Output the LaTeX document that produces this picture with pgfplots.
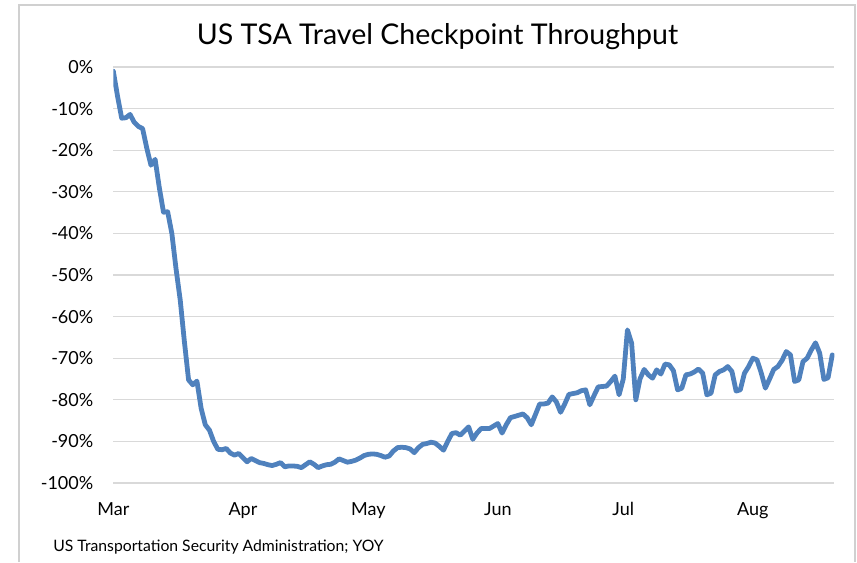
\documentclass[border=0pt]{standalone}
\usepackage{pgfplots}
\pgfplotsset{compat=1.18}
\usepackage{pgfplotstable}
\usepackage{fontspec}
\setmainfont{Lato}
\definecolor{tsablue}{RGB}{79,129,189}
\definecolor{gridgray}{RGB}{217,217,217}
\definecolor{framegray}{RGB}{208,208,208}

% days since 1 Mar, YOY change in %
\pgfplotstableread{
d v
0 -1
1 -7
2 -12.3
3 -12.2
4 -11.4
5 -13.3
6 -14.3
7 -14.8
8 -19.5
9 -23.6
10 -22.2
11 -29
12 -34.9
13 -34.8
14 -40
15 -48.5
16 -56
17 -66
18 -75.2
19 -76.4
20 -75.5
21 -82
22 -86
23 -87.3
24 -90
25 -91.9
26 -92
27 -91.7
28 -92.8
29 -93.3
30 -92.9
31 -93.9
32 -94.9
33 -94.1
34 -94.6
35 -95.1
36 -95.3
37 -95.6
38 -95.8
39 -95.5
40 -95.1
41 -96.1
42 -95.9
43 -95.9
44 -96
45 -96.3
46 -95.6
47 -94.9
48 -95.5
49 -96.3
50 -95.9
51 -95.6
52 -95.5
53 -95
54 -94.2
55 -94.6
56 -95
57 -94.8
58 -94.5
59 -94
60 -93.4
61 -93.1
62 -93
63 -93.1
64 -93.4
65 -93.8
66 -93.5
67 -92.3
68 -91.5
69 -91.4
70 -91.5
71 -91.8
72 -92.7
73 -91.5
74 -90.7
75 -90.5
76 -90.2
77 -90.4
78 -91.2
79 -92.1
80 -90
81 -88.1
82 -87.9
83 -88.5
84 -87.5
85 -86.5
86 -89.5
87 -88
88 -86.9
89 -86.9
90 -86.9
91 -86.3
92 -85.7
93 -88
94 -86
95 -84.3
96 -84
97 -83.7
98 -83.4
99 -84.3
100 -86
101 -83.5
102 -81
103 -81
104 -80.8
105 -79.3
106 -80.5
107 -83
108 -81
109 -78.7
110 -78.5
111 -78.3
112 -77.8
113 -77.6
114 -81.2
115 -79
116 -76.9
117 -76.8
118 -76.7
119 -75.6
120 -74.3
121 -78.8
122 -75
123 -63.2
124 -66.4
125 -80
126 -75
127 -72.7
128 -74
129 -74.8
130 -72.8
131 -73.8
132 -71.4
133 -71.6
134 -73
135 -77.6
136 -77.2
137 -74
138 -73.8
139 -73.3
140 -72.6
141 -73.6
142 -78.8
143 -78.4
144 -74
145 -73.2
146 -72.8
147 -72
148 -73.2
149 -77.9
150 -77.6
151 -73.6
152 -72
153 -70
154 -70.4
155 -73.5
156 -77.2
157 -75
158 -72.7
159 -72
160 -70.5
161 -68.4
162 -69.2
163 -75.6
164 -75.2
165 -70.8
166 -70
167 -68
168 -66.3
169 -68.8
170 -75.1
171 -74.7
172 -69.2
}\tsadata

\begin{document}
\begin{tikzpicture}
% 1 px of the reference = 0.75pt, origin at the top left corner
\path[use as bounding box] (0,0) rectangle (642.75pt,-421.5pt);
\draw[framegray, line width=1.5pt]
  (14.25pt,-421.5pt) -- (14.25pt,-3.75pt) -- (641.25pt,-3.75pt) -- (641.25pt,-421.5pt);
\begin{axis}[
    at={(85pt,-362.25pt)}, anchor=south west,
    scale only axis,
    width=540.75pt, height=312pt,
    xmin=0, xmax=172.5,
    ymin=-100, ymax=0,
    axis line style={draw=none},
    major tick length=0pt,
    ymajorgrids,
    grid style={gridgray, line width=1pt},
    xtick={0,31,61,92,122,153},
    xticklabels={Mar,Apr,May,Jun,Jul,Aug},
    ytick={-100,-90,...,0},
    yticklabels={-100\%,-90\%,-80\%,-70\%,-60\%,-50\%,-40\%,-30\%,-20\%,-10\%,0\%},
    tick label style={font=\fontsize{13.5}{16}\selectfont},
    yticklabel style={xshift=-11.5pt},
    xticklabel style={yshift=-11pt},
]
\addplot[tsablue, line width=3.6pt, line join=round, line cap=round] table[x=d, y=v] {\tsadata};
\end{axis}
\node[anchor=base, font=\fontsize{21.4}{25}\selectfont, inner sep=0pt] at (328.1pt,-33pt) {US TSA Travel Checkpoint Throughput};
\node[anchor=base west, font=\fontsize{11.8}{14}\selectfont, inner sep=0pt] at (39.75pt,-413.6pt) {US Transportation Security Administration; YOY};
\end{tikzpicture}
\end{document}
